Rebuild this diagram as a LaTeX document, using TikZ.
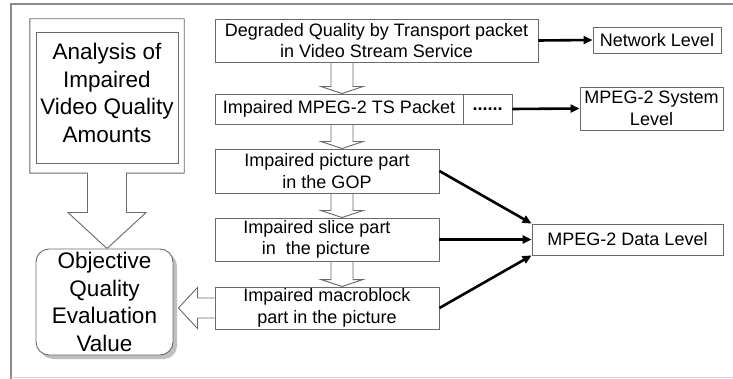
\documentclass[tikz,border=0pt]{standalone}
\usepackage{fontspec}
\setmainfont{Liberation Sans}
\usetikzlibrary{arrows.meta,calc,shadows,backgrounds}
\definecolor{boxgray}{HTML}{6A6A6A}
\definecolor{framegray}{HTML}{8C8C8C}

% hollow block arrow pointing down, from the bottom of #1 to the top of #2
\newcommand\hollowdown[2]{%
  \draw[hollow] ($(ax |- #1.south)+(-11,0)$) -- ($(ax |- #2.north)+(-11,-7)$)
    -- ($(ax |- #2.north)+(-21,-7)$) -- (ax |- #2.north)
    -- ($(ax |- #2.north)+(21,-7)$) -- ($(ax |- #2.north)+(11,-7)$)
    -- ($(ax |- #1.south)+(11,0)$);}

\begin{document}
\begin{tikzpicture}[x=1pt,y=-1pt,
  box/.style={draw=boxgray,line width=0.9pt,fill=white,inner sep=0pt,align=center,
              font=\fontsize{18}{21.5}\selectfont},
  bigtext/.style={font=\fontsize{22.5}{27.5}\selectfont,align=center},
  link/.style={line width=2.6pt,-{Triangle[length=9pt,width=8pt]}},
  hollow/.style={draw=boxgray,line width=0.9pt,fill=white},
]
\useasboundingbox (0,0) rectangle (733,379);

% right column: stream levels
\node[box,minimum width=323pt,minimum height=43pt] (deg) at (376.5,40.5)
  {Degraded Quality by Transport packet\\in Video Stream Service};
\node[box,minimum width=248pt,minimum height=30pt] (ts) at (339,109)
  {Impaired MPEG-2 TS Packet};
\node[box,minimum width=49pt,minimum height=30pt,font=\fontsize{18}{20}\selectfont\bfseries] (dots) at (487.5,109)
  {......};
\node[box,minimum width=128pt,minimum height=26pt] (net) at (657,40) {Network Level};
\node[box,minimum width=143pt,minimum height=43pt] (sys) at (651.5,108.5) {MPEG-2 System\\Level};
\node[box,minimum width=224pt,minimum height=44pt] (pic) at (327,171)
  {Impaired picture part\\in the GOP};
\node[box,minimum width=224pt,minimum height=43pt] (slice) at (327,239.5)
  {Impaired slice part\hspace*{20pt}\\in\ \ the picture\hspace*{22pt}};
\node[box,minimum width=224pt,minimum height=42pt] (mb) at (327,308)
  {Impaired macroblock\\part in the picture};
\node[box,minimum width=191pt,minimum height=31pt] (data) at (627.5,239.5) {MPEG-2 Data Level};

% left column
\node[minimum width=154pt,minimum height=154pt,inner sep=0pt] (aframe) at (107,96) {};
\node[box,minimum width=142pt,minimum height=131pt,
      label={[bigtext,yshift=4.5pt]center:{Analysis of\\Impaired\\Video Quality\\Amounts}}]
  (analysis) at (107,97.5) {};
\node[box,bigtext,rounded corners=13pt,minimum width=137pt,minimum height=106pt,
      drop shadow={shadow xshift=4pt,shadow yshift=-4pt,fill=black!50}]
  (obj) at (104.5,302) {Objective\\Quality\\Evaluation\\Value};

\coordinate (ax) at (342,0);

\begin{scope}[on background layer]
  % frame of the figure
  \draw[framegray,line width=1.3pt] (11,379) -- (11,4) -- (740,4);
  \draw[black!18,line width=1pt] (11,377.5) -- (740,377.5);

  % hollow arrows between the levels
  \hollowdown{deg}{ts}
  \hollowdown{ts}{pic}
  \hollowdown{pic}{slice}
  \hollowdown{slice}{mb}

  % analysis frame with its arrow to the evaluation value
  \coordinate (atip) at (aframe.south |- obj.north);
  \draw[hollow] (aframe.north west) -- (aframe.north east) -- (aframe.south east)
    -- ($(aframe.south)+(19.5,0)$) -- ($(atip)+(19.5,-36)$) -- ($(atip)+(39,-36)$)
    -- (atip) -- ($(atip)+(-39,-36)$) -- ($(atip)+(-19.5,-36)$)
    -- ($(aframe.south)+(-19.5,0)$) -- (aframe.south west) -- cycle;

  % macroblock result into the evaluation value
  \coordinate (ltip) at ($(obj.east |- mb.west)+(5,0)$);
  \draw[hollow] ($(mb.west)+(0,-10)$) -- ($(ltip)+(19,-10)$) -- ($(ltip)+(19,-20.5)$)
    -- (ltip) -- ($(ltip)+(19,20.5)$) -- ($(ltip)+(19,10)$) -- ($(mb.west)+(0,10)$);
\end{scope}

% level links
\draw[link] (deg.east) -- (net.west);
\draw[link] (dots.east) -- (sys.west);
\draw[link] (pic.east) -- (data.north west);
\draw[link] (slice.east) -- (data.west);
\draw[link] (mb.east) -- (data.south west);
\end{tikzpicture}
\end{document}
